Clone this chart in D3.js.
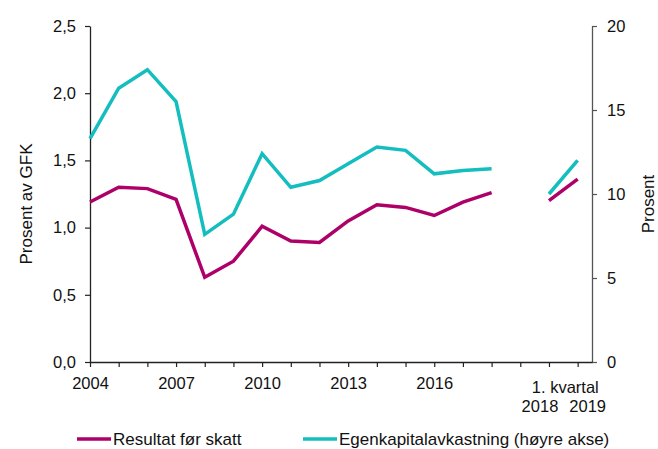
<!DOCTYPE html>
<html>
<head>
<meta charset="utf-8">
<script src="https://cdn.jsdelivr.net/npm/d3@7"></script>
<style>
  html, body { margin: 0; padding: 0; background: #fff; }
  svg { display: block; font-family: "Liberation Sans", Arial, sans-serif; }
</style>
</head>
<body>
<svg id="chart" width="658" height="449"></svg>
<script>
// Category slots: 2004–2018 annual, one empty slot, then 1st quarter 2018 and 2019
const slotLabels = ["2004", "", "", "2007", "", "", "2010", "", "", "2013", "", "", "2016", "", "", "", "", ""];
const quarterYears = ["2018", "2019"];
const quarterCaption = "1. kvartal";

// Resultat før skatt, prosent av GFK (venstre akse)
const resultat = [1.19, 1.30, 1.29, 1.21, 0.63, 0.75, 1.01, 0.90, 0.89, 1.05, 1.17, 1.15, 1.09, 1.19, 1.26, null, 1.20, 1.36];
// Egenkapitalavkastning, prosent (høyre akse)
const egenkapital = [13.3, 16.3, 17.4, 15.5, 7.6, 8.8, 12.4, 10.4, 10.8, 11.8, 12.8, 12.6, 11.2, 11.4, 11.5, null, 10.0, 12.0];

const leftTicks = [0, 0.5, 1.0, 1.5, 2.0, 2.5];
const rightTicks = [0, 5, 10, 15, 20];

const seriesNames = ["Resultat før skatt", "Egenkapitalavkastning (høyre akse)"];
const colors = ["#AD0068", "#14BEBE"];

const svg = d3.select("#chart");
const plot = { left: 90, right: 592, top: 26, bottom: 362 };

const x = d3.scaleLinear().domain([0, 17.5]).range([plot.left, plot.right]);
const yL = d3.scaleLinear().domain([0, 2.5]).range([plot.bottom, plot.top]);
const yR = d3.scaleLinear().domain([0, 20]).range([plot.bottom, plot.top]);

const comma = v => d3.format(".1f")(v).replace(".", ",");

// Left axis
const gL = svg.append("g")
  .attr("transform", `translate(${plot.left},0)`)
  .call(d3.axisLeft(yL).tickValues(leftTicks).tickFormat(comma).tickSize(5).tickSizeOuter(0).tickPadding(9));

// Right axis
const gR = svg.append("g")
  .attr("transform", `translate(${plot.right},0)`)
  .call(d3.axisRight(yR).tickValues(rightTicks).tickSize(5).tickSizeOuter(0).tickPadding(10));

// Bottom axis
const gX = svg.append("g")
  .attr("transform", `translate(0,${plot.bottom})`)
  .call(d3.axisBottom(x).tickValues(d3.range(slotLabels.length)).tickFormat(i => slotLabels[i]).tickSize(5).tickSizeOuter(0).tickPadding(10));

[gL, gR, gX].forEach(g => {
  g.selectAll("text").attr("font-size", 16.5).attr("fill", "#111").attr("font-family", "'Liberation Sans', Arial, sans-serif");
  g.selectAll("path.domain").attr("stroke", "#222").attr("stroke-width", 1.3);
  g.selectAll(".tick line").attr("stroke", "#222").attr("stroke-width", 1.2);
});
gR.selectAll("path.domain, .tick line").attr("stroke", "#555");

// Quarterly labels
const qIdx = [16, 17];
svg.append("text")
  .attr("x", (x(qIdx[0]) + x(qIdx[1])) / 2 + 2)
  .attr("y", 393)
  .attr("text-anchor", "middle")
  .attr("font-size", 16.5).attr("fill", "#111")
  .text(quarterCaption);
svg.selectAll("text.qyear")
  .data(quarterYears)
  .join("text")
  .attr("class", "qyear")
  .attr("x", (d, i) => x(qIdx[i]) + (i === 0 ? -9 : 10))
  .attr("y", 412)
  .attr("text-anchor", "middle")
  .attr("font-size", 16.5).attr("fill", "#111")
  .text(d => d);

// Axis titles
svg.append("text")
  .attr("transform", "translate(32,204) rotate(-90)")
  .attr("text-anchor", "middle")
  .attr("font-size", 17).attr("fill", "#111")
  .text("Prosent av GFK");
svg.append("text")
  .attr("transform", "translate(654,204) rotate(-90)")
  .attr("text-anchor", "middle")
  .attr("font-size", 17).attr("fill", "#111")
  .text("Prosent");

// Lines
const lineL = d3.line().defined(d => d != null).x((d, i) => x(i)).y(d => yL(d));
const lineR = d3.line().defined(d => d != null).x((d, i) => x(i)).y(d => yR(d));

svg.append("path")
  .datum(egenkapital)
  .attr("d", lineR)
  .attr("fill", "none")
  .attr("stroke", colors[1])
  .attr("stroke-width", 3.5)
  .attr("stroke-linejoin", "miter");

svg.append("path")
  .datum(resultat)
  .attr("d", lineL)
  .attr("fill", "none")
  .attr("stroke", colors[0])
  .attr("stroke-width", 3.5)
  .attr("stroke-linejoin", "miter");

// Legend
const legendItems = [
  { x: 77, name: seriesNames[0], color: colors[0] },
  { x: 303, name: seriesNames[1], color: colors[1] }
];
const lg = svg.append("g");
legendItems.forEach(it => {
  lg.append("line")
    .attr("x1", it.x).attr("x2", it.x + 34)
    .attr("y1", 439).attr("y2", 439)
    .attr("stroke", it.color).attr("stroke-width", 3.5);
  lg.append("text")
    .attr("x", it.x + 36).attr("y", 445)
    .attr("font-size", 17).attr("fill", "#111")
    .text(it.name);
});
</script>
</body>
</html>
